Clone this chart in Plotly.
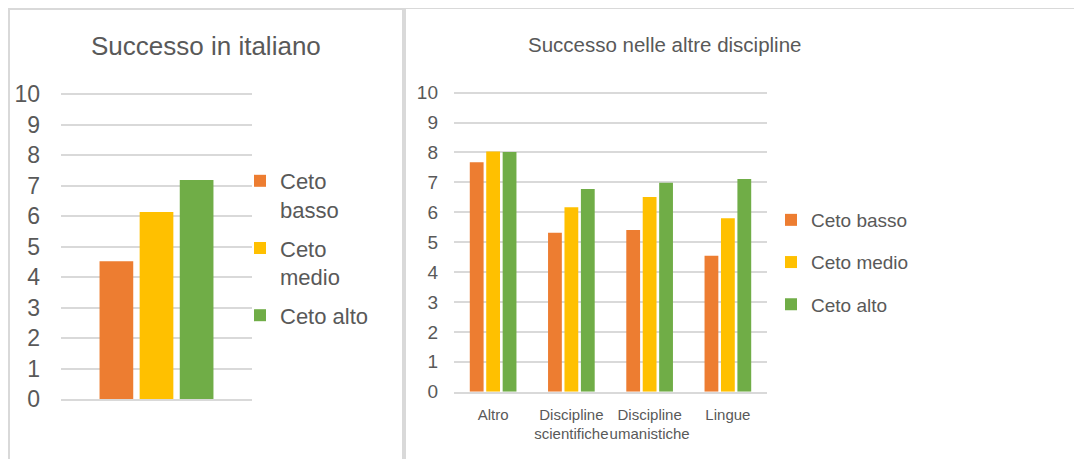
import plotly.graph_objects as go

W, H = 1082, 459
OFF = 8  # page body margin offset

series_names = ["Ceto basso", "Ceto medio", "Ceto alto"]
legend_left_labels = ["Ceto<br>basso", "Ceto<br>medio", "Ceto alto"]
colors = ["#ED7D31", "#FFC000", "#70AD47"]

left_title = "Successo in italiano"
left_categories = ["Italiano"]
left_values = [[4.52], [6.13], [7.18]]

right_title = "Successo nelle altre discipline"
right_categories = ["Altro", "Discipline<br>scientifiche", "Discipline<br>umanistiche", "Lingue"]
right_basso = [7.67, 5.32, 5.41, 4.55]
right_medio = [8.03, 6.17, 6.51, 5.80]
right_alto = [8.02, 6.78, 6.99, 7.11]
right_values = [right_basso, right_medio, right_alto]

y_ticks = list(range(0, 11))
Y_MAX = 10.08  # slightly above 10 so the top gridline is drawn

SANS = "Liberation Sans, Arial, sans-serif"
TXT = "#595959"
GRID = "#d9d9d9"

fig = go.Figure()

for i, name in enumerate(series_names):
    fig.add_trace(go.Bar(
        x=left_categories, y=left_values[i], name=legend_left_labels[i],
        marker=dict(color=colors[i], line=dict(width=0)),
        xaxis="x", yaxis="y", legend="legend", legendgroup="l%d" % i,
    ))
for i, name in enumerate(series_names):
    fig.add_trace(go.Bar(
        x=right_categories, y=right_values[i], name=name,
        marker=dict(color=colors[i], line=dict(width=0)),
        xaxis="x2", yaxis="y2", legend="legend2", legendgroup="r%d" % i,
    ))

def px(x):
    return (x - OFF) / W

def py(y):
    return 1 - (y - OFF) / H

def ydomain(y0pix, y10pix):
    per = (y0pix - y10pix) / 10.0
    top = y0pix - per * Y_MAX
    return [py(y0pix), py(top)]

yaxis_common = dict(
    range=[0, Y_MAX], tickvals=y_ticks, showgrid=True, gridcolor=GRID, gridwidth=2,
    zeroline=False, showline=False, ticks="", fixedrange=True, automargin=False,
)

fig.update_layout(
    width=W, height=H,
    margin=dict(l=0, r=0, t=0, b=0, autoexpand=False),
    paper_bgcolor="white", plot_bgcolor="white",
    barmode="group", bargap=0.37, bargroupgap=0.16,
    showlegend=True,
    xaxis=dict(domain=[px(61), px(252)], showticklabels=False, showgrid=False,
               zeroline=False, showline=True, linecolor=GRID, linewidth=2, ticks="",
               fixedrange=True, automargin=False),
    yaxis=dict(domain=ydomain(399, 94), anchor="x",
               tickfont=dict(family=SANS, size=23, color=TXT), ticklabelstandoff=20,
               **yaxis_common),
    xaxis2=dict(domain=[px(454), px(767)], anchor="y2", showgrid=False,
                zeroline=False, showline=True, linecolor=GRID, linewidth=2, ticks="",
                tickangle=0, tickfont=dict(family=SANS, size=15, color=TXT), ticklabelstandoff=8,
                fixedrange=True, automargin=False),
    yaxis2=dict(domain=ydomain(391.7, 92.7), anchor="x2",
                tickfont=dict(family=SANS, size=19, color=TXT), ticklabelstandoff=15,
                **yaxis_common),
    legend=dict(x=px(240), y=py(160), xanchor="left", yanchor="top",
                font=dict(family=SANS, size=22, color=TXT), valign="top",
                traceorder="grouped", tracegroupgap=7, bgcolor="rgba(0,0,0,0)"),
    legend2=dict(x=px(771), y=py(201), xanchor="left", yanchor="top",
                 font=dict(family=SANS, size=19, color=TXT),
                 traceorder="grouped", tracegroupgap=14.5, bgcolor="rgba(0,0,0,0)"),
    annotations=[
        dict(text=left_title, x=px(206), y=py(46), xref="paper", yref="paper",
             showarrow=False, xanchor="center", yanchor="middle",
             font=dict(family=SANS, size=26, color=TXT)),
        dict(text=right_title, x=px(664), y=py(45), xref="paper", yref="paper",
             showarrow=False, xanchor="center", yanchor="middle",
             font=dict(family=SANS, size=20.5, color=TXT)),
    ],
    shapes=[
        dict(type="rect", xref="paper", yref="paper", x0=px(9), x1=px(403), y0=py(9), y1=py(480),
             line=dict(color=GRID, width=2), fillcolor="rgba(0,0,0,0)", layer="below"),
        dict(type="rect", xref="paper", yref="paper", x0=px(405), x1=px(1095), y0=py(8), y1=py(480),
             line=dict(color=GRID, width=2), fillcolor="rgba(0,0,0,0)", layer="below"),
    ],
)

fig.write_html("out.html")
